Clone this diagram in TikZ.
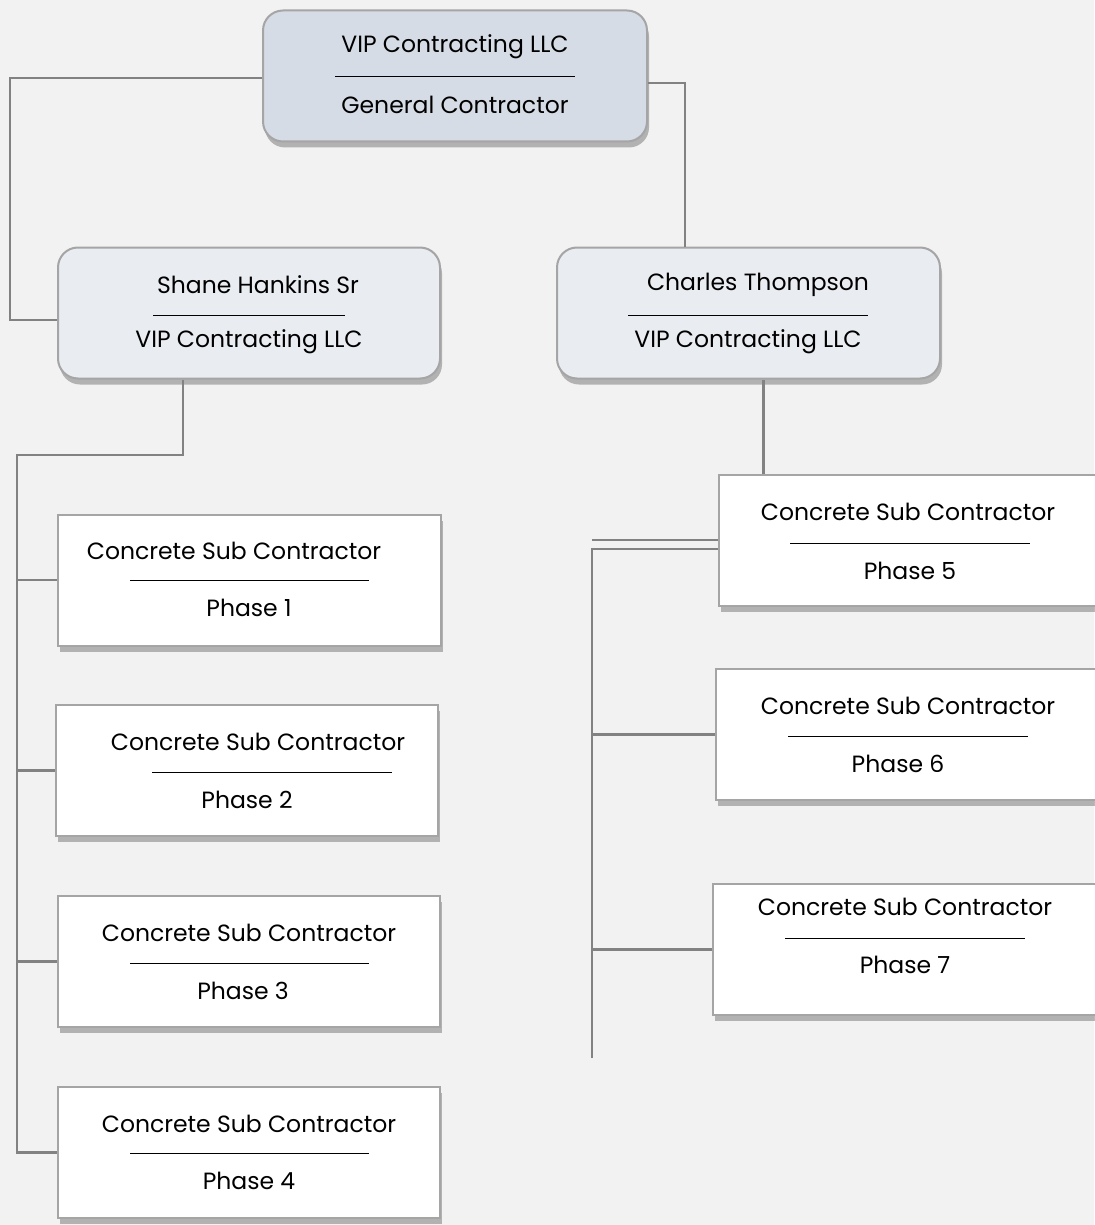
\documentclass[tikz,border=0pt]{standalone}
\usepackage{fontspec}
\setmainfont{Poppins}
\usetikzlibrary{shadows}
\definecolor{bg}{HTML}{F2F2F2}
\definecolor{topfill}{HTML}{D6DCE5}
\definecolor{midfill}{HTML}{E9ECF1}
\definecolor{edge}{HTML}{A5A5A5}
\definecolor{wire}{HTML}{828282}
\tikzset{
  card/.style={draw=edge, line width=2pt, minimum height=131pt, inner sep=0pt,
    drop shadow={shadow xshift=2pt, shadow yshift=-6pt, fill=black!55}},
  headcard/.style={card, rounded corners=20pt, fill=#1},
  subcard/.style={card, fill=white},
  txt/.style={font=\fontsize{23.5}{27}\selectfont, inner sep=0pt},
  rule/.style={line width=1pt, black},
  wire/.style={draw=wire, line width=2.5pt}
}
\begin{document}
\begin{tikzpicture}[x=1pt,y=-1pt]
	\fill[bg] (0,0) rectangle (1094,1225);
	\useasboundingbox (0,0) rectangle (1094,1225);
	% heads
	\node[headcard=topfill, minimum width=384pt] (gc) at (455,76) {};
	\node[headcard=midfill, minimum width=382pt] (shane) at (249,313) {};
	\node[headcard=midfill, minimum width=383pt] (charles) at (748.5,313) {};
	% phases
	\node[subcard, minimum width=383pt] (p1) at (249.5,580) {};
	\node[subcard, minimum width=382pt] (p2) at (247,770.5) {};
	\node[subcard, minimum width=382pt] (p3) at (249,961.5) {};
	\node[subcard, minimum width=382pt] (p4) at (249,1152.5) {};
	\node[subcard, minimum width=400pt] (p5) at (919,540) {};
	\node[subcard, minimum width=400pt] (p6) at (916,734.5) {};
	\node[subcard, minimum width=400pt] (p7) at (913,949.5) {};
	% texts
	\node[txt] (gc-a) at (455,47) {VIP Contracting LLC};
	\draw[rule] (335,77) -- (575,77);
	\node[txt] (gc-b) at (455,105) {General Contractor};
	\node[txt] (shane-a) at (258,285) {Shane Hankins Sr};
	\draw[rule] (153,315) -- (345,315);
	\node[txt] (shane-b) at (249,342) {VIP Contracting LLC};
	\node[txt] (charles-a) at (758,285) {Charles Thompson};
	\draw[rule] (628,315) -- (868,315);
	\node[txt] (charles-b) at (748,342) {VIP Contracting LLC};
	\node[txt] (p1-a) at (234,551) {Concrete Sub Contractor};
	\draw[rule] (130,580) -- (369,580);
	\node[txt] (p1-b) at (249,608) {Phase 1};
	\node[txt] (p2-a) at (258,742) {Concrete Sub Contractor};
	\draw[rule] (152,772) -- (392,772);
	\node[txt] (p2-b) at (247,800) {Phase 2};
	\node[txt] (p3-a) at (249,933) {Concrete Sub Contractor};
	\draw[rule] (130,963) -- (369,963);
	\node[txt] (p3-b) at (243,991) {Phase 3};
	\node[txt] (p4-a) at (249,1124) {Concrete Sub Contractor};
	\draw[rule] (130,1153) -- (369,1153);
	\node[txt] (p4-b) at (249,1181) {Phase 4};
	\node[txt] (p5-a) at (908,512) {Concrete Sub Contractor};
	\draw[rule] (790,543) -- (1030,543);
	\node[txt] (p5-b) at (910,571) {Phase 5};
	\node[txt] (p6-a) at (908,706) {Concrete Sub Contractor};
	\draw[rule] (788,736) -- (1028,736);
	\node[txt] (p6-b) at (898,764) {Phase 6};
	\node[txt] (p7-a) at (905,907) {Concrete Sub Contractor};
	\draw[rule] (785,938) -- (1025,938);
	\node[txt] (p7-b) at (905,965) {Phase 7};
	% wires
	\coordinate (lbend) at (10,78);
	\coordinate (rbend) at (685,83);
	\coordinate (lspine) at (17,455);
	\coordinate (rspine) at (592,549);
	\coordinate (rend) at (592,1058);
	\draw[wire] (gc.west |- lbend) -- (lbend) |- ([yshift=-7pt]shane.west);
	\draw[wire] (gc.east |- rbend) -- (rbend) -- (rbend |- charles.north);
	\draw[wire] ([xshift=-66pt]shane.south) |- (lspine) |- (p4.west);
	\foreach \i in {1,2,3}
		\draw[wire] (lspine |- p\i.west) -- (p\i.west);
	\draw[wire] ([xshift=15pt]charles.south) -- ([xshift=15pt]charles.south |- p5.north);
	\draw[wire] (rspine |- p5.west) -- (p5.west);
	\draw[wire] (p5.west |- rspine) -- (rspine) -- (rend);
	\foreach \i in {6,7}
		\draw[wire] (rspine |- p\i.west) -- (p\i.west);
\end{tikzpicture}
\end{document}
